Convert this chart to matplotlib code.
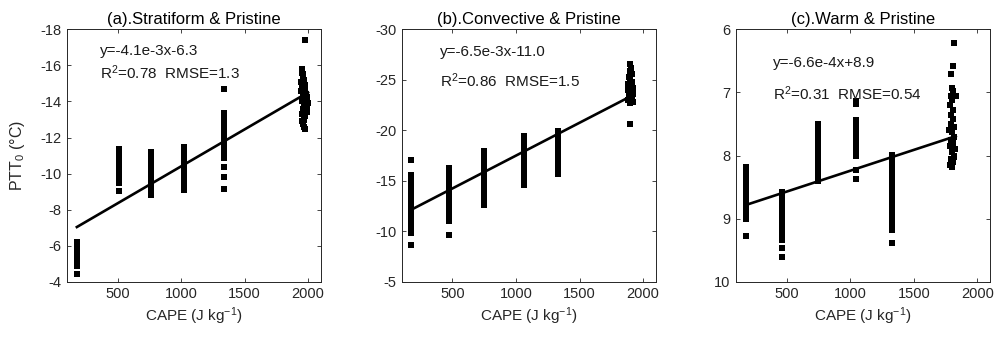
import matplotlib
matplotlib.use("Agg")
import matplotlib.pyplot as plt
import numpy as np

plt.rcParams['font.family'] = ['Liberation Sans', 'DejaVu Sans']
plt.rcParams['mathtext.default'] = 'regular'
plt.rcParams['axes.unicode_minus'] = False

# ---- data ----
titles = ["(a).Stratiform & Pristine", "(b).Convective & Pristine", "(c).Warm & Pristine"]
fit_text = ["y=-4.1e-3x-6.3", "y=-6.5e-3x-11.0", "y=-6.6e-4x+8.9"]
stat_text = ["R$^{2}$=0.78  RMSE=1.3", "R$^{2}$=0.86  RMSE=1.5", "R$^{2}$=0.31  RMSE=0.54"]
slopes = [-4.1e-3, -6.5e-3, -6.6e-4]
intercepts = [-6.3, -11.0, 8.9]

# (a) stratiform
a_cape = [180, 510, 765, 1020, 1340]
a_ptt = [
    [-6.2, -6.1, -6.0, -5.9, -5.85, -5.8, -5.7, -5.65, -5.6, -5.5, -5.45, -5.4, -5.3, -5.25, -5.2, -5.1, -5.05, -5.0, -4.9, -4.45],
    [-11.35, -11.25, -11.15, -11.05, -11.0, -10.9, -10.8, -10.75, -10.7, -10.6, -10.5, -10.45, -10.4, -10.3, -10.2, -10.1, -10.0, -9.9, -9.8, -9.7, -9.6, -9.5, -9.05],
    [-11.2, -11.1, -11.0, -10.9, -10.8, -10.7, -10.6, -10.5, -10.4, -10.3, -10.2, -10.1, -10.0, -9.9, -9.8, -9.7, -9.6, -9.5, -9.4, -9.3, -9.2, -9.1, -9.0, -8.9, -8.8],
    [-11.5, -11.3, -11.2, -11.1, -11.0, -10.9, -10.8, -10.7, -10.6, -10.5, -10.4, -10.3, -10.2, -10.1, -10.0, -9.9, -9.8, -9.7, -9.6, -9.5, -9.4, -9.3, -9.2, -9.1],
    [-14.7, -13.35, -13.2, -13.0, -12.9, -12.8, -12.6, -12.5, -12.4, -12.3, -12.2, -12.1, -12.0, -11.9, -11.8, -11.7, -11.6, -11.5, -11.4, -11.3, -11.2, -11.1, -11.0, -10.85, -10.35, -9.8, -9.15],
]
a_last_cape = [1955, 1950, 1962, 1958, 1970, 1948, 1965, 1975, 1955, 1980, 1945, 1968, 1985, 1960, 1990, 1975, 1995, 1952,
               1985, 2000, 1970, 1990, 1960, 1980, 1995, 1955, 1975, 1965, 1950, 1960, 1970, 1980, 1975]
a_last_ptt = [-15.8, -15.6, -15.5, -15.3, -15.2, -15.1, -15.0, -14.9, -14.8, -14.7, -14.6, -14.5, -14.4, -14.3, -14.25, -14.2, -14.1, -14.0,
              -13.95, -13.9, -13.8, -13.7, -13.6, -13.5, -13.4, -13.3, -13.2, -13.0, -12.9, -12.75, -12.6, -12.5, -17.4]

# (b) convective
b_cape = [170, 470, 750, 1060, 1330]
b_ptt = [
    [-17.1, -15.6, -15.4, -15.0, -14.7, -14.4, -14.1, -13.8, -13.5, -13.3, -13.0, -12.8, -12.6, -12.4, -12.2, -12.0, -11.8, -11.6, -11.4, -11.2, -11.0, -10.8, -10.6, -10.4, -10.2, -10.0, -9.8, -8.6],
    [-16.3, -16.0, -15.8, -15.5, -15.3, -15.0, -14.8, -14.5, -14.3, -14.0, -13.8, -13.5, -13.3, -13.0, -12.8, -12.5, -12.3, -12.0, -11.8, -11.5, -11.3, -11.0, -9.6],
    [-18.0, -17.6, -17.3, -17.0, -16.7, -16.4, -16.1, -15.8, -15.5, -15.2, -14.9, -14.6, -14.3, -14.0, -13.6, -13.2, -12.6],
    [-19.4, -19.0, -18.7, -18.4, -18.1, -17.8, -17.5, -17.2, -16.9, -16.6, -16.3, -16.0, -15.7, -15.4, -15.0, -14.6],
    [-19.9, -19.6, -19.3, -19.0, -18.7, -18.4, -18.1, -17.8, -17.5, -17.2, -16.9, -16.6, -16.3, -15.7],
]
b_last_cape = [1900, 1905, 1895, 1910, 1890, 1900, 1915, 1885, 1905, 1920, 1880, 1895, 1910, 1925, 1890, 1900, 1915, 1885,
               1905, 1920, 1895, 1895]
b_last_ptt = [-26.6, -26.2, -25.9, -25.6, -25.3, -25.0, -24.8, -24.6, -24.4, -24.2, -24.0, -23.9, -23.7, -23.6, -23.4, -23.3, -23.2, -23.0,
              -22.9, -22.8, -22.7, -20.6]

# (c) warm
c_cape = [175, 460, 745, 1045, 1330]
c_ptt = [
    [8.18, 8.25, 8.3, 8.35, 8.4, 8.45, 8.5, 8.55, 8.6, 8.65, 8.7, 8.75, 8.8, 8.85, 8.9, 8.95, 9.0, 9.27],
    [8.57, 8.62, 8.68, 8.75, 8.8, 8.85, 8.9, 8.95, 9.0, 9.05, 9.1, 9.15, 9.2, 9.25, 9.3, 9.34, 9.46, 9.6],
    [7.5, 7.55, 7.6, 7.65, 7.7, 7.75, 7.8, 7.85, 7.9, 7.95, 8.0, 8.05, 8.1, 8.15, 8.2, 8.25, 8.3, 8.35, 8.4],
    [7.13, 7.18, 7.44, 7.48, 7.52, 7.56, 7.6, 7.64, 7.68, 7.72, 7.76, 7.8, 7.85, 7.9, 7.95, 8.0, 8.23, 8.37],
    [7.99, 8.05, 8.1, 8.18, 8.25, 8.3, 8.38, 8.45, 8.52, 8.6, 8.66, 8.72, 8.8, 8.86, 8.92, 9.0, 9.06, 9.12, 9.18, 9.38],
]
c_last_cape = [1815, 1805, 1795, 1800, 1810, 1790, 1820, 1830, 1800, 1785, 1810, 1795, 1805, 1790, 1815, 1780, 1800, 1820,
               1795, 1810, 1785, 1825, 1800, 1815, 1790, 1820, 1805, 1785, 1800]
c_last_ptt = [6.22, 6.58, 6.70, 6.93, 6.98, 7.05, 7.05, 7.06, 7.12, 7.2, 7.28, 7.35, 7.42, 7.5, 7.55, 7.6, 7.62, 7.7,
              7.75, 7.8, 7.85, 7.9, 7.95, 8.0, 8.05, 8.02, 8.1, 8.15, 8.18]

ylims = [(-4, -18), (-5, -30), (10, 6)]
yticks = [np.arange(-18, -3, 2), np.arange(-30, -4, 5), np.arange(6, 11, 1)]
text_pos = [(0.13, 0.915, 0.83), (0.15, 0.91, 0.795), (0.147, 0.868, 0.745)]

panels = [(a_cape, a_ptt, a_last_cape, a_last_ptt),
          (b_cape, b_ptt, b_last_cape, b_last_ptt),
          (c_cape, c_ptt, c_last_cape, c_last_ptt)]

fig = plt.figure(figsize=(9.97, 3.38), dpi=100)
lefts = [0.0669, 0.4029, 0.7382]
gray = '#262626'

for i, (cape, ptt, lcape, lptt) in enumerate(panels):
    ax = fig.add_axes([lefts[i], 0.1662, 0.2548, 0.7470])
    xs = []
    ys = []
    for c, col in zip(cape, ptt):
        xs += [c] * len(col)
        ys += col
    xs += lcape
    ys += lptt
    ax.plot(xs, ys, 's', color='black', ms=3.7, mew=0)

    xl = np.array([min(xs), max(xs)])
    ax.plot(xl, slopes[i] * xl + intercepts[i], color='black', lw=1.9)

    ax.set_xlim(100, 2100)
    ax.set_xticks([500, 1000, 1500, 2000])
    ax.set_ylim(*ylims[i])
    ax.set_yticks(yticks[i])
    ax.tick_params(direction='in', top=True, right=True, length=3, width=0.6,
                   colors=gray, labelsize=10.5, pad=4)
    for s in ax.spines.values():
        s.set_color(gray)
        s.set_linewidth(0.7)

    ax.set_title(titles[i], fontsize=12, pad=4)
    ax.set_xlabel("CAPE (J kg$^{-1}$)", fontsize=11, color=gray, labelpad=3)
    if i == 0:
        ax.set_ylabel("PTT$_0$ (°C)", fontsize=11.5, color=gray, labelpad=9)

    tx, ty1, ty2 = text_pos[i]
    ax.text(tx, ty1, fit_text[i], transform=ax.transAxes, fontsize=11, va='center', color='#1a1a1a')
    ax.text(tx, ty2, stat_text[i], transform=ax.transAxes, fontsize=11, va='center', color='#1a1a1a')

fig.savefig("out.png", dpi=100)
